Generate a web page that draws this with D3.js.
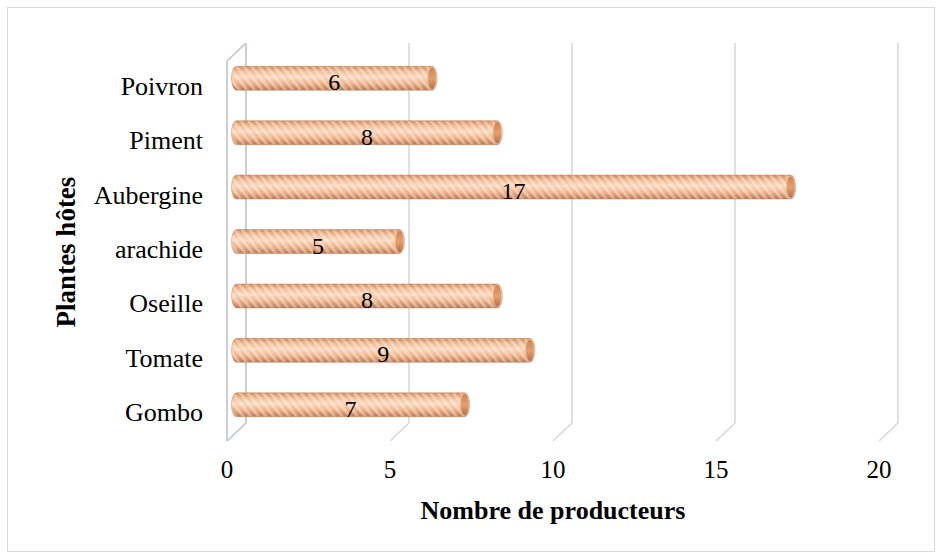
<!DOCTYPE html>
<html>
<head>
<meta charset="utf-8">
<script src="https://cdn.jsdelivr.net/npm/d3@7/dist/d3.min.js"></script>
<style>
  html, body { margin: 0; padding: 0; background: #fff; }
  svg { display: block; }
  text { font-family: "Liberation Serif", "Times New Roman", serif; fill: #000; }
</style>
</head>
<body>
<script>
// Host plants and number of growers reporting them (top to bottom)
const categories = ["Poivron", "Piment", "Aubergine", "arachide", "Oseille", "Tomate", "Gombo"];
const values = [6, 8, 17, 5, 8, 9, 7];
const xTicks = [0, 5, 10, 15, 20];
const xTitle = "Nombre de producteurs";
const yTitle = "Plantes hôtes";

const W = 942, H = 559;
const SERIF = "'Liberation Serif', 'Times New Roman', serif";
const svg = d3.select("body").append("svg").attr("width", W).attr("height", H)
  .attr("font-family", SERIF);

// outer chart border
svg.append("rect").attr("x", 7.5).attr("y", 7.5).attr("width", W - 15).attr("height", H - 15)
  .attr("fill", "#fff").attr("stroke", "#d9d9d9").attr("stroke-width", 1);

// 3-D geometry: front plane scale plus a depth offset for the back wall
const x = d3.scaleLinear().domain([0, 20]).range([227, 879]);
const depth = { dx: 19, dy: -18 };
const wallTop = 43, wallBottom = 423, floorFront = wallBottom - depth.dy;

const y = d3.scaleBand().domain(categories).range([51, 432]);
const barH = 24;

// defs: cylinder shading and diagonal stripe texture
const defs = svg.append("defs");
const grad = defs.append("linearGradient").attr("id", "cyl").attr("x1", 0).attr("y1", 0).attr("x2", 0).attr("y2", 1);
[["0%", "#cf8a5d"], ["22%", "#f3bc96"], ["45%", "#fbd7bc"], ["72%", "#efb188"], ["100%", "#b87650"]]
  .forEach(([o, c]) => grad.append("stop").attr("offset", o).attr("stop-color", c));
const pat = defs.append("pattern").attr("id", "stripes").attr("patternUnits", "userSpaceOnUse")
  .attr("width", 6).attr("height", 6).attr("patternTransform", "rotate(-38)");
pat.append("rect").attr("x", 0).attr("y", 0).attr("width", 2.6).attr("height", 6)
  .attr("fill", "#fff").attr("fill-opacity", 0.38);
const capGrad = defs.append("linearGradient").attr("id", "cap").attr("x1", 0).attr("y1", 0).attr("x2", 0).attr("y2", 1);
[["0%", "#c98050"], ["50%", "#e4a172"], ["100%", "#b06e45"]]
  .forEach(([o, c]) => capGrad.append("stop").attr("offset", o).attr("stop-color", c));

// gridlines on the back wall, folding forward onto the floor
const grid = svg.append("g");
xTicks.forEach(t => {
  const bx = x(t) + depth.dx;
  grid.append("path")
    .attr("d", `M${bx},${wallTop} L${bx},${wallBottom} L${x(t)},${floorFront}`)
    .attr("fill", "none").attr("stroke", t === 0 ? "#bcc4cd" : "#d9d9d9").attr("stroke-width", 1.6);
});
// left side wall
grid.append("path")
  .attr("d", `M${x(0)},${wallTop - depth.dy} L${x(0) + depth.dx},${wallTop} M${x(0)},${wallTop - depth.dy} L${x(0)},${floorFront}`)
  .attr("fill", "none").attr("stroke", "#bcc4cd").attr("stroke-width", 1.6);

// cylindrical bars
const rx = 5;
const bars = svg.append("g").selectAll("g").data(categories).join("g");
bars.each(function (c, i) {
  const g = d3.select(this);
  const cy = y(c) + y.bandwidth() / 2;
  const x0 = x(0) + depth.dx / 2, x1 = x(values[i]) + depth.dx / 2;
  const top = cy - barH / 2, bot = cy + barH / 2;
  const body = `M${x0},${top} L${x1},${top} A${rx},${barH / 2} 0 0 1 ${x1},${bot} L${x0},${bot} A${rx},${barH / 2} 0 0 1 ${x0},${top} Z`;
  g.append("path").attr("d", body).attr("fill", "url(#cyl)");
  g.append("path").attr("d", body).attr("fill", "url(#stripes)");
  g.append("path").attr("d", body).attr("fill", "none").attr("stroke", "#c07c52").attr("stroke-opacity", 0.55).attr("stroke-width", 0.8);
  g.append("ellipse").attr("cx", x1).attr("cy", cy).attr("rx", rx - 0.6).attr("ry", barH / 2 - 0.8)
    .attr("fill", "url(#cap)").attr("stroke", "#f2c29f").attr("stroke-width", 0.8);
  // value label
  g.append("text").attr("x", x(values[i] / 2) + depth.dx / 2).attr("y", cy + 12)
    .attr("font-family", SERIF).attr("text-anchor", "middle").attr("font-size", 24).text(values[i]);
});

// category labels
svg.append("g").selectAll("text").data(categories).join("text")
  .attr("x", 203).attr("y", c => y(c) + y.bandwidth() / 2 + 8)
  .attr("dominant-baseline", "central").attr("text-anchor", "end").attr("font-size", 26)
  .text(c => c);

// value axis tick labels
svg.append("g").selectAll("text").data(xTicks).join("text")
  .attr("x", t => x(t)).attr("y", 478).attr("text-anchor", "middle").attr("font-size", 25)
  .text(t => t);

// axis titles
svg.append("text").attr("x", 553).attr("y", 519).attr("text-anchor", "middle")
  .attr("font-size", 26).attr("font-weight", "bold").text(xTitle);
svg.append("text").attr("transform", "translate(75,252) rotate(-90)").attr("text-anchor", "middle")
  .attr("font-size", 27).attr("font-weight", "bold").text(yTitle);
</script>
</body>
</html>
